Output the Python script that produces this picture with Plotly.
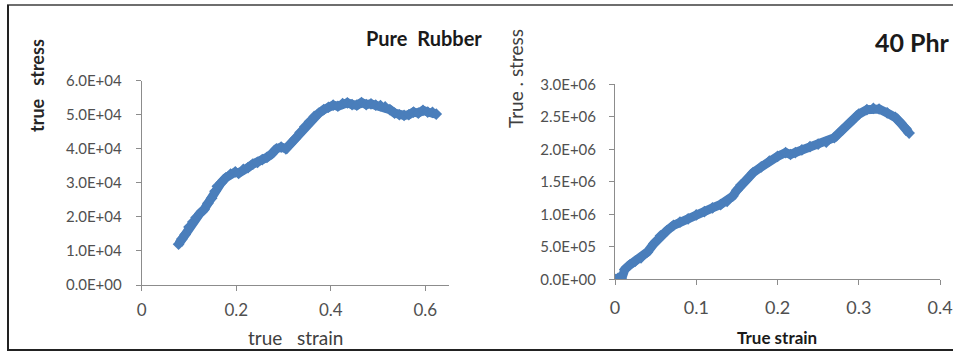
import plotly.graph_objects as go

# Pure Rubber: true strain vs true stress
pure_strain = [0.078, 0.085, 0.092, 0.100, 0.108, 0.115, 0.123, 0.132, 0.140, 0.148,
               0.155, 0.160, 0.168, 0.178, 0.188, 0.198, 0.205, 0.215, 0.225, 0.235,
               0.245, 0.255, 0.265, 0.275, 0.285, 0.295, 0.305, 0.315, 0.325, 0.335,
               0.345, 0.355, 0.365, 0.375, 0.385, 0.395, 0.405, 0.415, 0.425, 0.435,
               0.445, 0.455, 0.465, 0.475, 0.485, 0.495, 0.505, 0.515, 0.525, 0.535,
               0.545, 0.555, 0.565, 0.575, 0.585, 0.595, 0.605, 0.615, 0.623]
pure_stress = [12000, 13500, 14800, 17000, 18500, 19800, 21000, 22200, 24000, 25500,
               27500, 29000, 30000, 31500, 32600, 33200, 32800, 34000, 34500, 35500,
               36000, 36800, 37500, 38500, 40000, 40500, 40000, 41500, 43000, 44800,
               46500, 48000, 49500, 50500, 51500, 52200, 52800, 52500, 53300, 53500,
               53000, 52800, 53600, 53000, 53200, 52800, 52700, 52300, 51500, 50500,
               50000, 49800, 50000, 50800, 50500, 51300, 50800, 50700, 50200]

# 40 Phr: true strain vs true stress
phr_strain = [0.000, 0.004, 0.008, 0.012, 0.018, 0.025, 0.032, 0.040, 0.048, 0.056,
              0.064, 0.072, 0.080, 0.090, 0.100, 0.110, 0.120, 0.130, 0.138, 0.145,
              0.150, 0.155, 0.162, 0.170, 0.180, 0.190, 0.200, 0.210, 0.216, 0.222,
              0.230, 0.240, 0.250, 0.260, 0.270, 0.280, 0.290, 0.300, 0.310, 0.318,
              0.325, 0.335, 0.345, 0.352, 0.358, 0.362]
phr_stress = [0, 20000, 0, 150000, 220000, 280000, 330000, 420000, 550000, 670000,
              750000, 830000, 880000, 930000, 990000, 1040000, 1100000, 1150000, 1200000, 1280000,
              1370000, 1450000, 1530000, 1640000, 1730000, 1820000, 1890000, 1950000, 1920000, 1950000,
              1990000, 2040000, 2080000, 2110000, 2180000, 2300000, 2420000, 2540000, 2610000, 2630000,
              2620000, 2560000, 2490000, 2400000, 2320000, 2250000]

pure_xticks = [0, 0.2, 0.4, 0.6]
pure_xlabels = ["0", "0.2", "0.4", "0.6"]
pure_yticks = [0, 10000, 20000, 30000, 40000, 50000, 60000]
pure_ylabels = ["0.0E+00", "1.0E+04", "2.0E+04", "3.0E+04", "4.0E+04", "5.0E+04", "6.0E+04"]
phr_xticks = [0, 0.1, 0.2, 0.3, 0.4]
phr_xlabels = ["0", "0.1", "0.2", "0.3", "0.4"]
phr_yticks = [0, 500000, 1000000, 1500000, 2000000, 2500000, 3000000]
phr_ylabels = ["0.0E+00", "5.0E+05", "1.0E+06", "1.5E+06", "2.0E+06", "2.5E+06", "3.0E+06"]

W, H = 953, 352
BLUE = "#4A7EBB"
AXIS = "#8C8C8C"
TICKC = "#505050"
FONT = "Lato"
NB = "\u00a0"

def px(x):
    return x / W

def py(y):
    return 1 - y / H

fig = go.Figure()
fig.add_trace(go.Scatter(x=pure_strain, y=pure_stress, mode="lines+markers",
                         line=dict(color=BLUE, width=9),
                         marker=dict(color=BLUE, size=9, symbol="diamond"),
                         xaxis="x", yaxis="y", showlegend=False))
fig.add_trace(go.Scatter(x=phr_strain, y=phr_stress, mode="lines+markers",
                         line=dict(color=BLUE, width=9),
                         marker=dict(color=BLUE, size=9, symbol="diamond"),
                         xaxis="x2", yaxis="y2", showlegend=False))

ax_common = dict(showgrid=False, zeroline=False, showline=True, linecolor=AXIS, linewidth=1,
                 ticks="outside", ticklen=5, tickcolor=AXIS, tickwidth=1, automargin=False,
                 tickfont=dict(family=FONT, color=TICKC, size=15), fixedrange=True)

fig.update_layout(
    width=W, height=H,
    margin=dict(l=0, r=0, t=0, b=0, autoexpand=False),
    paper_bgcolor="white", plot_bgcolor="white",
    xaxis=dict(ax_common, domain=[px(141.7), px(449)], range=[0, 0.65],
               tickvals=pure_xticks, ticktext=pure_xlabels, anchor="y",
               ticklabelstandoff=5,
               tickfont=dict(family=FONT, color=TICKC, size=17)),
    yaxis=dict(ax_common, domain=[py(285), py(80.7)], range=[0, 60000],
               tickvals=pure_yticks, ticktext=pure_ylabels, anchor="x",
               ticklabelstandoff=11),
    xaxis2=dict(ax_common, domain=[px(615), px(940)], range=[0, 0.4],
                tickvals=phr_xticks, ticktext=phr_xlabels, anchor="y2",
                ticklabelstandoff=7,
                tickfont=dict(family=FONT, color=TICKC, size=18)),
    yaxis2=dict(ax_common, domain=[py(279.3), py(84.3)], range=[0, 3000000],
                tickvals=phr_yticks, ticktext=phr_ylabels, anchor="x2",
                ticklabelstandoff=10),
)

ann = [
    dict(text="Pure" + NB * 2 + "Rubber", x=px(423.5), y=py(38), font=dict(family=FONT, size=20, color="#1a1a1a"), bold=True),
    dict(text="40 Phr", x=px(912), y=py(42), font=dict(family=FONT, size=25, color="#1a1a1a"), bold=True),
    dict(text="true" + NB * 3 + "stress", x=px(37), y=py(86), font=dict(family=FONT, size=18, color="#262626"), bold=True, angle=-90),
    dict(text="True . stress", x=px(516), y=py(79), font=dict(family=FONT, size=19, color="#404040"), bold=False, angle=-90),
    dict(text="true" + NB * 3 + "strain", x=px(295.5), y=py(337), font=dict(family=FONT, size=19, color="#404040"), bold=False),
    dict(text="True" + NB + "strain", x=px(777), y=py(337), font=dict(family=FONT, size=17, color="#1a1a1a"), bold=True),
]
for a in ann:
    t = a["text"]
    if a.get("bold"):
        t = "<b>" + t + "</b>"
    fig.add_annotation(text=t, x=a["x"], y=a["y"], xref="paper", yref="paper",
                       showarrow=False, xanchor="center", yanchor="middle",
                       textangle=a.get("angle", 0), font=a["font"])

# outer frame lines
fig.add_shape(type="line", xref="paper", yref="paper", x0=px(7), x1=px(953), y0=py(5), y1=py(5),
              line=dict(color="#6e6e6e", width=2))
fig.add_shape(type="line", xref="paper", yref="paper", x0=px(8), x1=px(8), y0=py(5), y1=py(350),
              line=dict(color="#222222", width=2))
fig.add_shape(type="line", xref="paper", yref="paper", x0=px(7), x1=px(953), y0=py(350), y1=py(350),
              line=dict(color="#222222", width=2))

fig.write_html("out.html")
